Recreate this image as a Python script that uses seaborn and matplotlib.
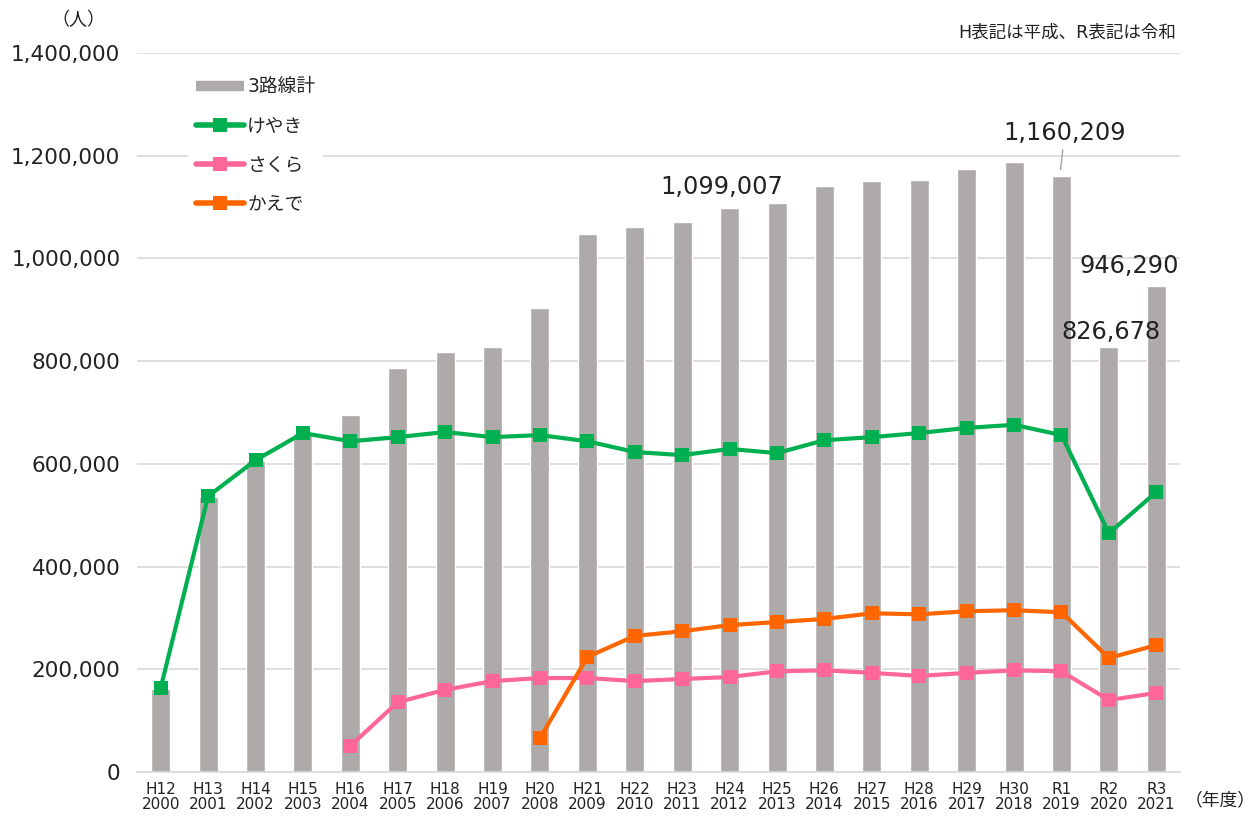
import numpy as np
import pandas as pd
import matplotlib
matplotlib.use("Agg")
import matplotlib.pyplot as plt
from matplotlib.ticker import FuncFormatter
from matplotlib.lines import Line2D
import seaborn as sns

# 年度ラベル(和暦/西暦)
era_labels = ["H12", "H13", "H14", "H15", "H16", "H17", "H18", "H19", "H20", "H21", "H22",
              "H23", "H24", "H25", "H26", "H27", "H28", "H29", "H30", "R1", "R2", "R3"]
years = list(range(2000, 2022))

# 3路線計(人)
total = [162000, 536000, 606000, 660000, 695000, 786000, 818000, 827000, 903000, 1047000, 1061000,
         1071000, 1099007, 1108000, 1141000, 1151000, 1153000, 1174000, 1188000, 1160209, 826678, 946290]
# 各路線(人)
keyaki = [164000, 537000, 607000, 660000, 644000, 652000, 662000, 652000, 656000, 644000, 623000,
          617000, 629000, 621000, 646000, 652000, 660000, 670000, 676000, 656000, 465000, 545000]
sakura = [np.nan, np.nan, np.nan, np.nan, 51000, 136000, 160000, 177000, 183000, 183000, 177000,
          181000, 185000, 196000, 198000, 193000, 187000, 193000, 198000, 196000, 140000, 154000]
kaede = [np.nan] * 8 + [66000, 224000, 265000, 274000, 286000, 292000, 298000, 309000, 307000,
                         313000, 315000, 311000, 222000, 247000]

series_names = ["3路線計", "けやき", "さくら", "かえで"]
colors = {"3路線計": "#AEAAAA", "けやき": "#00B050", "さくら": "#FF6699", "かえで": "#FF6600"}
text_color = "#222222"

sns.set_theme(style="white")
plt.rcParams["font.family"] = ["DejaVu Sans", "Noto Sans CJK JP"]

fig = plt.figure(figsize=(12.58, 8.17), dpi=100)
ax = fig.add_axes([137 / 1258, 45 / 817, (1180 - 137) / 1258, (772 - 53) / 817])

xlabels = [f"{e}\n{y}" for e, y in zip(era_labels, years)]
df = pd.DataFrame({"x": np.arange(len(total)), "label": xlabels, "total": total,
                   "けやき": keyaki, "さくら": sakura, "かえで": kaede})

sns.barplot(data=df, x="label", y="total", color=colors["3路線計"], width=0.4,
            saturation=1, ax=ax, zorder=2)

for name in ["さくら", "かえで", "けやき"]:
    sns.lineplot(data=df, x="x", y=name, color=colors[name], linewidth=3,
                 marker="s", markersize=9.5, markeredgewidth=0, ax=ax, zorder=4)

ax.set_xlim(-0.5, len(total) - 0.5)
ax.set_ylim(0, 1400000)
ax.set_yticks(np.arange(0, 1400001, 200000))
ax.yaxis.set_major_formatter(FuncFormatter(lambda v, p: f"{int(v):,}"))
ax.set_xticks(np.arange(len(total)))
ax.set_xticklabels(xlabels, fontsize=11, linespacing=1.0, color=text_color)
ax.tick_params(axis="y", labelsize=15.5, pad=12, length=0, labelcolor=text_color)
ax.tick_params(axis="x", pad=7, length=0)
ax.set_xlabel("")
ax.set_ylabel("")
ax.grid(axis="y", color="#D9D9D9", linewidth=1.2, zorder=0)
ax.set_axisbelow(True)
for s in ["top", "right", "left"]:
    ax.spines[s].set_visible(False)
ax.spines["bottom"].set_color("#D9D9D9")
ax.spines["bottom"].set_linewidth(1.2)

# 数値ラベル
ann = dict(ha="center", va="center", fontsize=17.3, color=text_color)
ax.annotate(f"{total[12]:,}", xy=(11.83, 1139000), **ann)
ax.annotate(f"{total[19]:,}", xy=(18.98, 1173000), xytext=(19.07, 1244000),
            arrowprops=dict(arrowstyle="-", color="#A6A6A6", lw=1.0, shrinkA=1, shrinkB=0),
            **ann)
ax.annotate(f"{total[21]:,}", xy=(20.43, 985000), **ann)
ax.annotate(f"{total[20]:,}", xy=(20.05, 857000), **ann)

# 凡例
handles = [Line2D([0], [0], color=colors["3路線計"], linewidth=7.5, solid_capstyle="butt")]
for name in ["けやき", "さくら", "かえで"]:
    handles.append(Line2D([0], [0], color=colors[name], linewidth=4, marker="s",
                          markersize=9.5, markeredgewidth=0, solid_capstyle="round"))
leg = ax.legend(handles, series_names, loc="upper left", bbox_to_anchor=(0.04, 0.99),
                fontsize=13.5, frameon=True, facecolor="white", edgecolor="none",
                framealpha=1, handlelength=2.6, handletextpad=0.15, labelspacing=1.08,
                borderpad=0.4, fancybox=False)
leg.set_zorder(5)

fig.text(78 / 1258, 1 - 20 / 817, "（人）", ha="center", va="center", fontsize=13,
         color=text_color)
fig.text(1176 / 1258, 1 - 33 / 817, "H表記は平成、R表記は令和", ha="right", va="center",
         fontsize=12.6, color=text_color)
fig.text(1220 / 1258, 1 - 800 / 817, "（年度）", ha="center", va="center", fontsize=12.8,
         color=text_color)

fig.savefig("out.png", dpi=100, facecolor="white")
